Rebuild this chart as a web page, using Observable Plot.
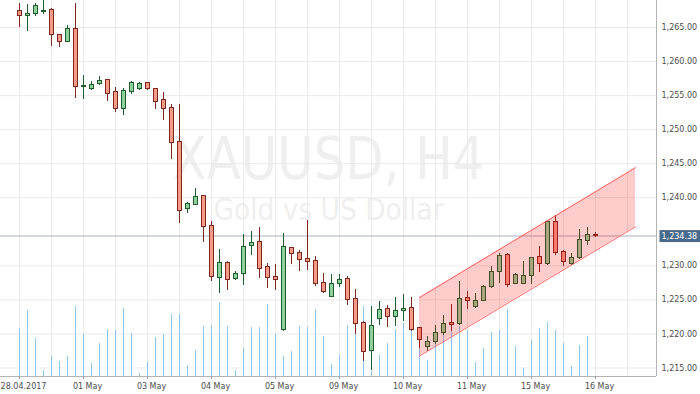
<!DOCTYPE html>
<html><head><meta charset="utf-8">
<script src="https://cdn.jsdelivr.net/npm/d3@7"></script>
<script src="https://cdn.jsdelivr.net/npm/@observablehq/plot@0.6"></script>
<style>
html,body{margin:0;padding:0;background:#fff;}
#chart{position:relative;width:700px;height:394px;overflow:hidden;background:#fff;}
#chart svg{position:absolute;left:0;top:0;}
</style></head><body><div id="chart"></div>
<script>
// ---- data (XAUUSD H4 candles) ----
const opens = [1267.35,1266.76,1267.05,1267.25,1267.54,1263.83,1262.84,1264.85,1256.19,1255.90,
1256.63,1257.22,1255.46,1253.05,1255.55,1255.90,1256.78,1255.90,1254.29,1253.11,
1248.12,1238.29,1238.99,1240.20,1235.80,1228.16,1230.37,1228.10,1228.75,1232.86,
1233.49,1229.78,1228.31,1220.53,1232.57,1231.83,1230.95,1230.66,1227.43,1225.37,
1227.28,1228.02,1225.08,1221.56,1217.45,1222.15,1223.61,1222.44,1223.32,1223.76,
1220.83,1218.04,1218.77,1220.09,1221.56,1221.41,1225.23,1223.91,1224.79,1226.84,
1229.04,1231.54,1227.28,1227.28,1228.46,1231.25,1230.22,1236.38,1231.98,1230.22,
1231.10,1233.59,1234.53];
const highs = [1268.52,1268.42,1268.52,1268.95,1267.83,1263.90,1265.34,1268.52,1258.00,1257.12,
1257.81,1257.30,1256.19,1256.09,1257.08,1256.93,1256.85,1255.95,1255.46,1253.74,
1253.74,1239.32,1241.42,1240.25,1236.53,1232.46,1230.70,1229.23,1234.62,1235.06,
1235.69,1230.37,1230.22,1234.81,1232.65,1232.21,1236.68,1231.39,1228.90,1228.75,
1228.75,1228.46,1226.55,1221.90,1224.05,1224.83,1224.20,1225.42,1225.86,1225.42,
1220.97,1219.65,1221.27,1222.73,1224.36,1227.72,1226.26,1225.96,1227.14,1229.92,
1231.83,1231.83,1228.90,1230.66,1231.20,1232.86,1236.50,1237.41,1232.27,1231.83,
1235.35,1235.65,1234.91];
const lows = [1264.94,1264.35,1266.56,1266.85,1262.15,1262.01,1262.74,1254.52,1254.43,1255.70,
1256.43,1254.14,1252.47,1252.13,1255.21,1255.80,1255.70,1252.97,1251.40,1245.63,
1236.28,1237.64,1238.90,1233.39,1227.66,1225.90,1226.34,1227.81,1227.08,1231.48,
1228.10,1226.64,1226.40,1220.40,1230.22,1229.13,1229.28,1226.93,1226.00,1225.30,
1226.84,1224.14,1219.99,1215.92,1214.60,1221.21,1220.97,1221.12,1221.82,1220.33,
1217.86,1217.39,1218.48,1219.80,1220.43,1221.27,1223.54,1223.80,1224.70,1226.70,
1227.43,1226.84,1227.20,1227.20,1227.28,1229.04,1230.10,1231.54,1229.92,1230.10,
1231.00,1233.01,1234.18];
const closes = [1266.76,1267.05,1268.13,1267.39,1263.83,1262.89,1264.71,1256.28,1256.39,1256.49,
1257.12,1255.17,1253.05,1255.61,1256.78,1256.63,1255.90,1254.08,1252.97,1247.98,
1238.08,1239.02,1240.05,1235.65,1228.40,1230.37,1227.87,1228.75,1232.71,1233.30,
1229.48,1228.16,1227.87,1232.71,1231.69,1230.81,1230.51,1227.28,1226.11,1227.28,
1227.87,1224.93,1221.41,1217.30,1221.12,1223.47,1222.44,1223.32,1223.61,1220.62,
1219.06,1218.77,1220.09,1221.41,1221.27,1225.08,1224.79,1224.79,1226.84,1229.04,
1231.39,1227.14,1228.60,1228.46,1231.10,1230.22,1236.38,1231.83,1230.51,1231.10,
1233.74,1234.47,1234.38];
const volumes = [48,66,38,6,20,15,20,70,42,13,
33,47,46,68,43,3,14,39,42,62,
62,11,26,50,51,74,50,6,28,49,
49,72,42,20,25,50,49,67,40,12,
21,51,42,70,5,21,33,47,53,46,
28,16,46,56,48,50,46,14,28,44,
46,67,30,8,36,48,54,46,33,10,
31,40,0];
const dateLabels = ["28.04.2017","01 May","03 May","04 May","05 May","09 May","10 May","11 May","15 May","16 May"];
const labelIdx = [0,8,16,24,32,40,48,56,64,72];
const gridIdx = [0,4,8,12,16,20,24,28,32,36,40,44,48,52,56,60,64,68,72,76];
const priceTicks = [1215,1220,1225,1230,1240,1245,1250,1255,1260,1265];
const channelIdx = [50,77];
const channelUpper = [1225.34,1244.41];
const channelLower = [1216.76,1235.74];
const lastPrice = 1234.38;
const watermark = "XAUUSD, H4";
const subtitle = "Gold vs US Dollar";

// ---- build ----
const candles = opens.map((o,i)=>({i, open:o, high:highs[i], low:lows[i], close:closes[i], up: closes[i] >= o}));
const vols = volumes.map((v,i)=>({i, v}));
const channel = channelIdx.map((i,k)=>({i, upper:channelUpper[k], lower:channelLower[k]}));

const W=700, H=394;
const xDomain=[-2.375, 79.625];
const yDomain=[1213.75, 1268.965];
const font = "DejaVu Sans, sans-serif";
const base = {width:W, height:H, marginLeft:0, marginRight:44, marginTop:0, marginBottom:18,
  style:{background:"transparent", fontFamily:font, fontSize:"8px", color:"#4d4d4d"}};
const redFill="#f99a89", redLine="#7b2a22", greenFill="#8fd19e", greenLine="#1f5e2c";
const fmt = d3.format(",.2f");

const gridPlot = Plot.plot({...base,
  x:{type:"linear", domain:xDomain, axis:null},
  y:{domain:yDomain, axis:null},
  marks:[
    Plot.text([watermark], {frameAnchor:"middle", text:d=>d, fontSize:59, fill:"#efefef", dy:-28.6, fontFamily:"DejaVu Sans Condensed, DejaVu Sans, sans-serif"}),
    Plot.text([subtitle], {frameAnchor:"middle", text:d=>d, fontSize:30, fill:"#efefef", dy:21.7, fontFamily:"DejaVu Sans Condensed, DejaVu Sans, sans-serif"}),
    Plot.ruleY(priceTicks, {stroke:"#ebebeb"}),
    Plot.ruleX(gridIdx, {stroke:"#ebebeb"})
  ]});

const volPlot = Plot.plot({...base,
  x:{type:"linear", domain:xDomain, axis:null},
  y:{domain:[0,376], axis:null},
  marks:[
    Plot.ruleX(vols, {x:"i", y1:0, y2:"v", stroke:"#8dc6ec"})
  ]});

const mainPlot = Plot.plot({...base,
  x:{type:"linear", domain:xDomain, axis:null, label:null},
  y:{domain:yDomain, axis:null, label:null},
  marks:[
    Plot.ruleY([lastPrice], {stroke:"#a9afb9"}),
    Plot.ruleX(candles, {x:"i", y1:"low", y2:"high", stroke:d=>d.up?greenLine:redLine, shapeRendering:"crispEdges"}),
    Plot.rect(candles, {x1:d=>d.i-0.25, x2:d=>d.i+0.25, y1:"open", y2:"close", fill:d=>d.up?greenFill:redFill, stroke:d=>d.up?greenLine:redLine, strokeWidth:1, shapeRendering:"crispEdges"}),
    Plot.areaY(channel, {x:"i", y1:"lower", y2:"upper", fill:"#ff0000", fillOpacity:0.2}),
    Plot.line(channel, {x:"i", y:"upper", stroke:"#ff4d4d", strokeOpacity:0.85, strokeWidth:1}),
    Plot.line(channel, {x:"i", y:"lower", stroke:"#ff4d4d", strokeOpacity:0.85, strokeWidth:1}),
    Plot.ruleY([yDomain[0]], {stroke:"#b4b4b4"}),
    Plot.ruleX([xDomain[1]], {stroke:"#b4b4b4"}),
    Plot.axisY({ticks:priceTicks, anchor:"right", tickSize:0, tickPadding:5, tickFormat:fmt, color:"#4d4d4d", fontSize:8, label:null}),
    Plot.axisX({ticks:labelIdx, anchor:"bottom", tickSize:3, tickFormat:()=>"", stroke:"#a0a0a0", label:null}),
    Plot.text(labelIdx, {x:d=>d, frameAnchor:"bottom", lineAnchor:"top", dy:6.5, dx:4, text:(d,k)=>dateLabels[k], fill:"#4d4d4d", fontSize:8}),
    Plot.text([lastPrice], {y:d=>d, frameAnchor:"right", textAnchor:"start", dx:5, text:d=>fmt(d), fill:"#ffffff", fontSize:8})
  ]});

const chart = document.getElementById("chart");
chart.append(gridPlot, volPlot, mainPlot);

// watermark widths
d3.select(gridPlot).selectAll("text").each(function(){
  if (this.textContent === watermark) { this.setAttribute("textLength", 312); this.setAttribute("lengthAdjust","spacingAndGlyphs"); }
  if (this.textContent === subtitle) { this.setAttribute("textLength", 230); this.setAttribute("lengthAdjust","spacingAndGlyphs"); }
});
// price label box
d3.select(mainPlot).selectAll("text").each(function(){
  if (this.textContent === fmt(lastPrice) && this.parentNode.getAttribute("fill")==="#ffffff") {
    const b = this.getBBox();
    const ctm = this.getAttribute("transform");
    const r = document.createElementNS("http://www.w3.org/2000/svg","rect");
    r.setAttribute("x", b.x-2); r.setAttribute("y", b.y-1.5);
    r.setAttribute("width", 60); r.setAttribute("height", b.height+3);
    r.setAttribute("fill", "#4a6a8c");
    if (ctm) r.setAttribute("transform", ctm);
    this.parentNode.insertBefore(r, this);
  }
});
</script></body></html>
